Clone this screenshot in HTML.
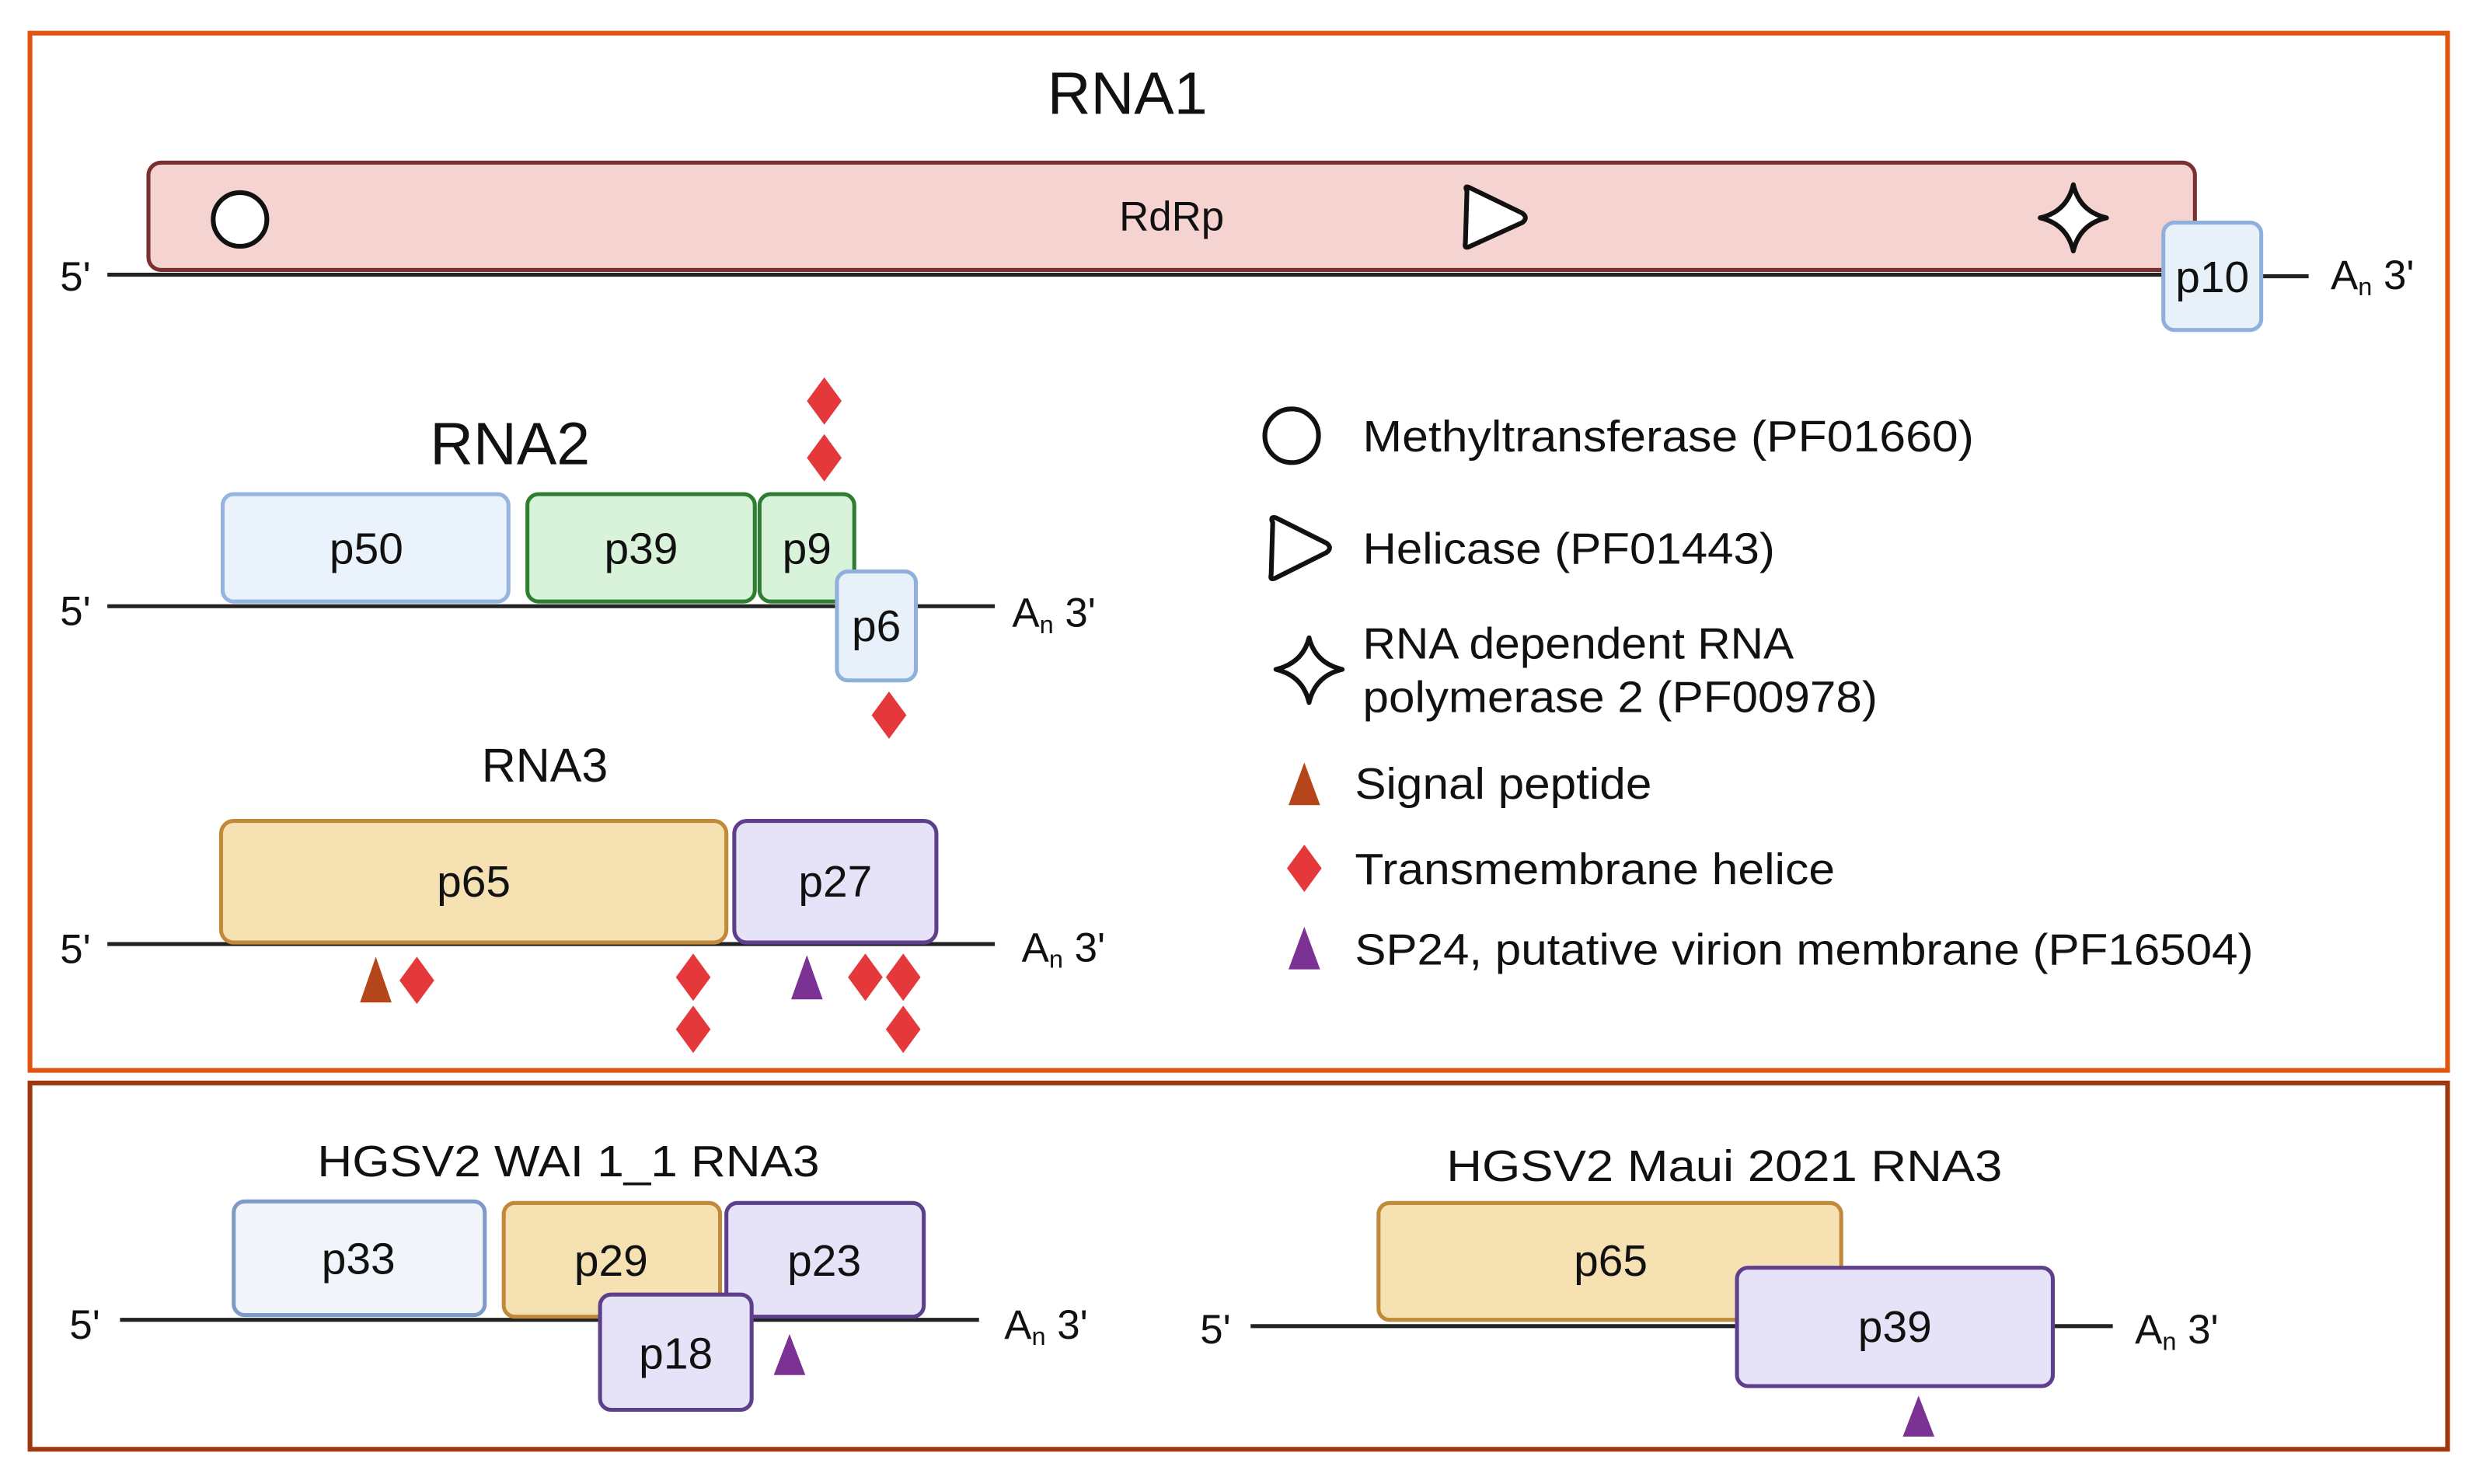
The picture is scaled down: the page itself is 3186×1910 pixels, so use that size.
<!DOCTYPE html>
<html><head><meta charset="utf-8"><style>
html,body{margin:0;padding:0;background:#fff;}
svg{display:block;}
text{font-family:"Liberation Sans",sans-serif;fill:#111;}
</style></head><body>
<svg width="3186" height="1910" viewBox="0 0 1568 940" preserveAspectRatio="none" xmlns="http://www.w3.org/2000/svg">
<rect x="0" y="0" width="1568" height="940" fill="#fff"/>
<!-- frames -->
<rect x="19" y="21" width="1531" height="657" fill="none" stroke="#E0550F" stroke-width="3"/>
<rect x="19" y="686" width="1531" height="232" fill="none" stroke="#A0380F" stroke-width="3"/>

<!-- RNA1 -->
<text x="714" y="72" font-size="38" text-anchor="middle">RNA1</text>
<line x1="68" y1="174" x2="1372" y2="174" stroke="#222" stroke-width="2.5"/>
<line x1="1432" y1="175" x2="1462" y2="175" stroke="#222" stroke-width="2.5"/>
<rect x="94" y="103" width="1296" height="68" rx="8" fill="#F5D3D0" stroke="#7A3030" stroke-width="2.5"/>
<circle cx="152" cy="139" r="17" fill="#fff" stroke="#111" stroke-width="3"/>
<text x="742" y="146" font-size="26" text-anchor="middle">RdRp</text>
<path d="M929,121 Q927,117 931,119 L964,135 Q968,138 964,141 L931,156 Q927,158 928,154 Z" fill="#fff" stroke="#111" stroke-width="3" stroke-linejoin="round"/>
<path d="M1313,117 Q1317,134 1334,138 Q1317,142 1313,159 Q1309,142 1292,138 Q1309,134 1313,117 Z" fill="#fff" stroke="#111" stroke-width="3" stroke-linejoin="round"/>
<rect x="1370" y="141" width="62" height="68" rx="7" fill="#E8F0FA" stroke="#8FB0DC" stroke-width="2.5"/>
<text x="1401" y="185" font-size="28" text-anchor="middle">p10</text>
<text x="38" y="184" font-size="26">5'</text>
<text x="1476" y="183" font-size="26">A<tspan font-size="16" dy="4">n</tspan><tspan dy="-4"> 3'</tspan></text>

<!-- RNA2 -->
<text x="323" y="294" font-size="38" text-anchor="middle">RNA2</text>
<line x1="68" y1="384" x2="630" y2="384" stroke="#222" stroke-width="2.5"/>
<text x="38" y="396" font-size="26">5'</text>
<text x="641" y="397" font-size="26">A<tspan font-size="16" dy="4">n</tspan><tspan dy="-4">  3'</tspan></text>
<rect x="141" y="313" width="181" height="68" rx="7" fill="#EAF2FB" stroke="#96B4E0" stroke-width="2.5"/>
<text x="232" y="357" font-size="28" text-anchor="middle">p50</text>
<rect x="334" y="313" width="144" height="68" rx="7" fill="#D8F3DA" stroke="#2E7D32" stroke-width="2.5"/>
<text x="406" y="357" font-size="28" text-anchor="middle">p39</text>
<rect x="481" y="313" width="60" height="68" rx="7" fill="#D8F3DA" stroke="#2E7D32" stroke-width="2.5"/>
<text x="511" y="357" font-size="28" text-anchor="middle">p9</text>
<rect x="530" y="362" width="50" height="69" rx="7" fill="#E8F0FA" stroke="#8FB0DC" stroke-width="2.5"/>
<text x="555" y="406" font-size="28" text-anchor="middle">p6</text>
<g fill="#E5383B">
<path d="M522,239 L533,254 L522,269 L511,254 Z"/>
<path d="M522,275 L533,290 L522,305 L511,290 Z"/>
<path d="M563,438 L574,453 L563,468 L552,453 Z"/>
</g>

<!-- RNA3 -->
<text x="345" y="495" font-size="30" text-anchor="middle">RNA3</text>
<line x1="68" y1="598" x2="630" y2="598" stroke="#222" stroke-width="2.5"/>
<text x="38" y="610" font-size="26">5'</text>
<text x="647" y="609" font-size="26">A<tspan font-size="16" dy="4">n</tspan><tspan dy="-4"> 3'</tspan></text>
<rect x="140" y="520" width="320" height="77" rx="8" fill="#F6E1B3" stroke="#C08A3A" stroke-width="2.5"/>
<text x="300" y="568" font-size="28" text-anchor="middle">p65</text>
<rect x="465" y="520" width="128" height="77" rx="8" fill="#E6E3F8" stroke="#5E3F8C" stroke-width="2.5"/>
<text x="529" y="568" font-size="28" text-anchor="middle">p27</text>
<path d="M238,606 L248,635 L228,635 Z" fill="#B5451B"/>
<path d="M511,605 L521,633 L501,633 Z" fill="#7B3294"/>
<g fill="#E5383B">
<path d="M264,606 L275,621 L264,636 L253,621 Z"/>
<path d="M439,604 L450,619 L439,634 L428,619 Z"/>
<path d="M439,637 L450,652 L439,667 L428,652 Z"/>
<path d="M548,604 L559,619 L548,634 L537,619 Z"/>
<path d="M572,604 L583,619 L572,634 L561,619 Z"/>
<path d="M572,637 L583,652 L572,667 L561,652 Z"/>
</g>

<!-- Legend -->
<circle cx="818" cy="276" r="17" fill="#fff" stroke="#111" stroke-width="3"/>
<text x="863" y="286" font-size="28" textLength="387" lengthAdjust="spacingAndGlyphs">Methyltransferase (PF01660)</text>
<path d="M806,331 Q804,327 808,328 L840,344 Q844,347 840,350 L808,366 Q804,368 805,364 Z" fill="#fff" stroke="#111" stroke-width="3" stroke-linejoin="round"/>
<text x="863" y="357" font-size="28" textLength="261" lengthAdjust="spacingAndGlyphs">Helicase (PF01443)</text>
<path d="M829,404 Q833,420 850,424 Q833,428 829,445 Q825,428 808,424 Q825,420 829,404 Z" fill="#fff" stroke="#111" stroke-width="3" stroke-linejoin="round"/>
<text x="863" y="417" font-size="28" textLength="273" lengthAdjust="spacingAndGlyphs">RNA dependent RNA</text>
<text x="863" y="451" font-size="28" textLength="326" lengthAdjust="spacingAndGlyphs">polymerase 2 (PF00978)</text>
<path d="M826,483 L836,510 L816,510 Z" fill="#B5451B"/>
<text x="858" y="506" font-size="28" textLength="188" lengthAdjust="spacingAndGlyphs">Signal peptide</text>
<path d="M826,535 L837,550 L826,565 L815,550 Z" fill="#E5383B"/>
<text x="858" y="560" font-size="28" textLength="304" lengthAdjust="spacingAndGlyphs">Transmembrane helice</text>
<path d="M826,587 L836,614 L816,614 Z" fill="#7B3294"/>
<text x="858" y="611" font-size="28" textLength="569" lengthAdjust="spacingAndGlyphs">SP24, putative virion membrane (PF16504)</text>

<!-- Bottom left -->
<text x="360" y="745" font-size="28" text-anchor="middle" textLength="318" lengthAdjust="spacingAndGlyphs">HGSV2 WAI 1_1 RNA3</text>
<line x1="76" y1="836" x2="620" y2="836" stroke="#222" stroke-width="2.5"/>
<text x="44" y="848" font-size="26">5'</text>
<text x="636" y="848" font-size="26">A<tspan font-size="16" dy="4">n</tspan><tspan dy="-4"> 3'</tspan></text>
<rect x="148" y="761" width="159" height="72" rx="7" fill="#F1F4FA" stroke="#7E9AC6" stroke-width="2.5"/>
<text x="227" y="807" font-size="28" text-anchor="middle">p33</text>
<rect x="319" y="762" width="137" height="72" rx="7" fill="#F6E1B3" stroke="#C08A3A" stroke-width="2.5"/>
<text x="387" y="808" font-size="28" text-anchor="middle">p29</text>
<rect x="460" y="762" width="125" height="72" rx="7" fill="#E6E3F8" stroke="#5E3F8C" stroke-width="2.5"/>
<text x="522" y="808" font-size="28" text-anchor="middle">p23</text>
<rect x="380" y="820" width="96" height="73" rx="7" fill="#E6E3F8" stroke="#5E3F8C" stroke-width="2.5"/>
<text x="428" y="867" font-size="28" text-anchor="middle">p18</text>
<path d="M500,845 L510,871 L490,871 Z" fill="#7B3294"/>

<!-- Bottom right -->
<text x="1092" y="748" font-size="28" text-anchor="middle" textLength="352" lengthAdjust="spacingAndGlyphs">HGSV2 Maui 2021 RNA3</text>
<line x1="792" y1="840" x2="1338" y2="840" stroke="#222" stroke-width="2.5"/>
<text x="760" y="851" font-size="26">5'</text>
<text x="1352" y="851" font-size="26">A<tspan font-size="16" dy="4">n</tspan><tspan dy="-4"> 3'</tspan></text>
<rect x="873" y="762" width="293" height="74" rx="7" fill="#F6E1B3" stroke="#C08A3A" stroke-width="2.5"/>
<text x="1020" y="808" font-size="28" text-anchor="middle">p65</text>
<rect x="1100" y="803" width="200" height="75" rx="7" fill="#E6E3F8" stroke="#5E3F8C" stroke-width="2.5"/>
<text x="1200" y="850" font-size="28" text-anchor="middle">p39</text>
<path d="M1215,884 L1225,910 L1205,910 Z" fill="#7B3294"/>
</svg>
</body></html>
